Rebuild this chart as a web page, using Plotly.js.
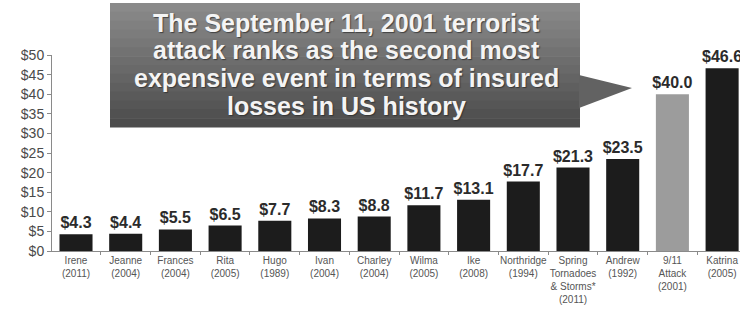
<!DOCTYPE html>
<html>
<head>
<meta charset="utf-8">
<script src="https://cdn.plot.ly/plotly-3.0.1.min.js"></script>
<style>html,body{margin:0;padding:0;background:#fff;}#chart{width:740px;height:312px;}</style>
</head>
<body>
<div id="chart"></div>
<script>
// ---- data ----
const events = ["Irene", "Jeanne", "Frances", "Rita", "Hugo", "Ivan", "Charley", "Wilma", "Ike",
  "Northridge", "Spring<br>Tornadoes<br>& Storms*", "Andrew", "9/11<br>Attack", "Katrina"];
const years = ["2011", "2004", "2004", "2005", "1989", "2004", "2004", "2005", "2008",
  "1994", "2011", "1992", "2001", "2005"];
const losses = [4.3, 4.4, 5.5, 6.5, 7.7, 8.3, 8.8, 11.7, 13.1, 17.7, 21.3, 23.5, 40.0, 46.6];
const highlight = "9/11<br>Attack";
const calloutLines = [
  "The September 11, 2001 terrorist",
  "attack ranks as the second most",
  "expensive event in terms of insured",
  "losses in US history"
];

// ---- build ----
const cats = events.map((e, i) => e + "<br>(" + years[i] + ")");
const colors = events.map(e => e === highlight ? "#9c9c9c" : "#1c1c1c");

const trace = {
  type: "bar",
  x: cats,
  y: losses,
  marker: {color: colors, line: {width: 0}},
  text: losses.map(v => "$" + v.toFixed(1)),
  textposition: "outside",
  constraintext: "none",
  cliponaxis: false,
  textfont: {family: "Liberation Sans, Arial, sans-serif", size: 16, color: "#2b2b2b", weight: "bold"},
  hoverinfo: "skip"
};

// callout box (paper coords): plot area spans x 52..740, y 55..251 px
const px = v => (v - 52) / 688;
const py = v => (251 - v) / 196;
const boxL = 110, boxR = 580, boxT = 3, boxB = 127;
const shapes = [];
const nBands = 14;
const cTop = [0x8a, 0x8a, 0x8a], cBot = [0x4c, 0x4c, 0x4c];
for (let i = 0; i < nBands; i++) {
  const t = i / (nBands - 1);
  const c = cTop.map((a, k) => Math.round(a + (cBot[k] - a) * t));
  const yTop = boxT + (boxB - boxT) * i / nBands;
  const yBot = boxT + (boxB - boxT) * (i + 1) / nBands;
  shapes.push({type: "rect", xref: "paper", yref: "paper", layer: "above",
    x0: px(boxL), x1: px(boxR), y0: py(yBot + 0.6), y1: py(yTop),
    fillcolor: "rgb(" + c.join(",") + ")", line: {width: 0}});
}
shapes.push({type: "path", xref: "paper", yref: "paper", layer: "above",
  path: "M " + px(boxR - 1) + "," + py(75) + " L " + px(632) + "," + py(88) + " L " + px(boxR - 1) + "," + py(108) + " Z",
  fillcolor: "#626262", line: {width: 0}});

const lineY = [23, 50.5, 78, 106];
const annotations = calloutLines.map((s, i) => ({
  xref: "paper", yref: "paper", x: px(346), y: py(lineY[i]),
  xanchor: "center", yanchor: "middle", showarrow: false, text: s,
  font: {family: "Liberation Sans, Arial, sans-serif", size: 25, color: "#f4f4f4", weight: "bold",
    shadow: "1px 1px 1px rgba(40,40,40,0.7)"}
}));

const layout = {
  width: 740, height: 312,
  margin: {l: 52, r: 0, t: 55, b: 61, pad: 0},
  paper_bgcolor: "#ffffff", plot_bgcolor: "#ffffff",
  showlegend: false,
  bargap: 0.335,
  font: {family: "Liberation Sans, Arial, sans-serif"},
  xaxis: {
    type: "category", range: [-0.483, 13.36], fixedrange: true,
    showline: true, linecolor: "#8a8a8a", linewidth: 1,
    ticks: "outside", tickson: "boundaries", ticklen: 3, tickcolor: "#8a8a8a",
    showgrid: false, zeroline: false, tickangle: 0,
    tickfont: {size: 10, color: "#555555"}
  },
  yaxis: {
    range: [0, 50], dtick: 5, tickprefix: "$", fixedrange: true,
    showline: true, linecolor: "#8a8a8a", linewidth: 1,
    ticks: "outside", ticklen: 4, tickcolor: "#8a8a8a",
    showgrid: false, zeroline: false,
    tickfont: {size: 14, color: "#4a4a4a"}
  },
  shapes: shapes,
  annotations: annotations
};

Plotly.newPlot("chart", [trace], layout, {displayModeBar: false, staticPlot: true});
</script>
</body>
</html>
